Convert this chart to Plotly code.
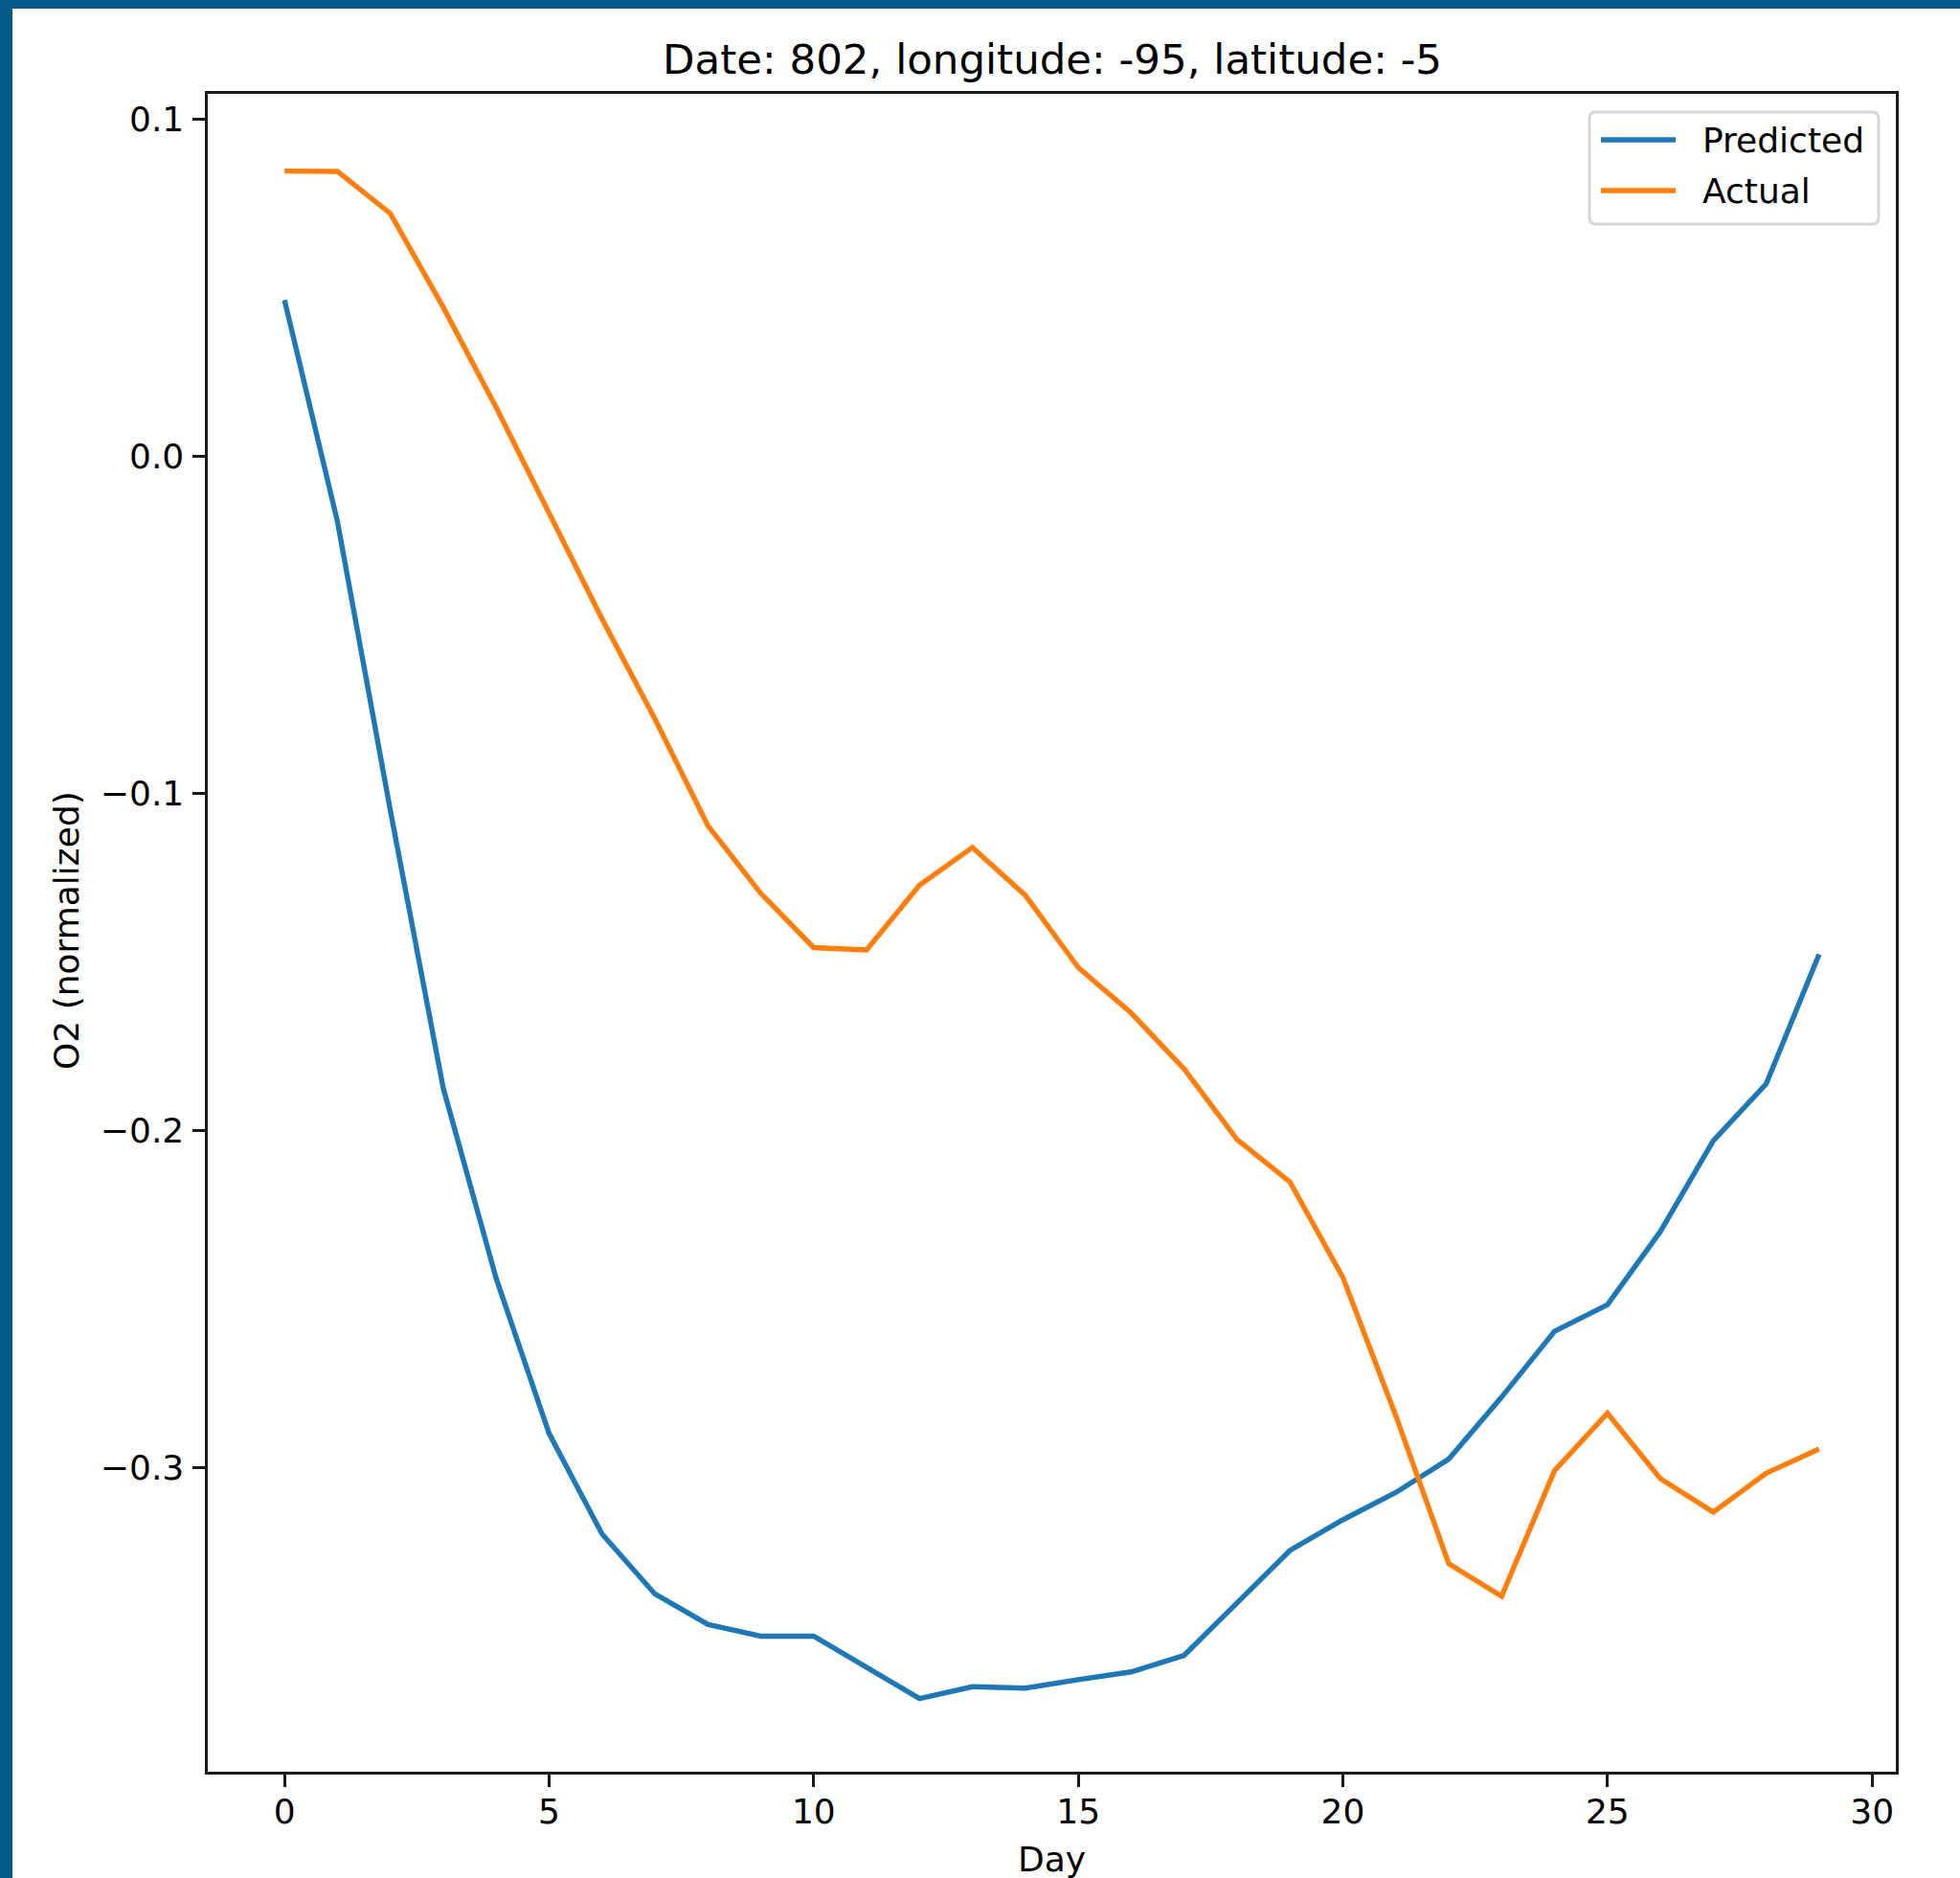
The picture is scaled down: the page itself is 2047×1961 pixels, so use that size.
import plotly.graph_objects as go

# ---- data ----
days = list(range(30))
predicted = [0.0463, -0.0193, -0.1050, -0.1874, -0.2438, -0.2898, -0.3196, -0.3374, -0.3464, -0.3499,
             -0.3499, -0.3592, -0.3684, -0.3649, -0.3653, -0.3628, -0.3605, -0.3556, -0.3400, -0.3245,
             -0.3154, -0.3073, -0.2974, -0.2790, -0.2595, -0.2516, -0.2299, -0.2030, -0.1861, -0.1477]
actual = [0.0846, 0.0845, 0.0720, 0.0442, 0.0145, -0.0167, -0.0482, -0.0779, -0.1095, -0.1296,
          -0.1457, -0.1464, -0.1272, -0.1160, -0.1302, -0.1516, -0.1651, -0.1817, -0.2026, -0.2152,
          -0.2435, -0.2845, -0.3284, -0.3381, -0.3008, -0.2838, -0.3032, -0.3131, -0.3016, -0.2944]
series_names = ["Predicted", "Actual"]
x_tickvals = [0, 5, 10, 15, 20, 25, 30]
x_ticktext = ["0", "5", "10", "15", "20", "25", "30"]
y_tickvals = [-0.3, -0.2, -0.1, 0.0, 0.1]
y_ticktext = ["\u22120.3", "\u22120.2", "\u22120.1", "0.0", "0.1"]
title_text = "Date: 802, longitude: -95, latitude: -5"
x_title = "Day"
y_title = "O2 (normalized)"

# ---- layout geometry (pixels) ----
W, H = 2047, 1961
ML, MR, MT, MB = 217, 67, 98, 111
X0, X1 = ML, W - MR
Y0, Y1 = MT, H - MB


def px(x):
    return (x - X0) / (X1 - X0)


def py(y):
    return (Y1 - y) / (Y1 - Y0)


BLUE = "#1f77b4"
ORANGE = "#ff7f0e"
FONT = "DejaVu Sans"
FS = 36
LW = 5.4

fig = go.Figure()
fig.add_trace(go.Scatter(x=days, y=predicted, mode="lines", name=series_names[0],
                         line=dict(color=BLUE, width=LW), showlegend=False))
fig.add_trace(go.Scatter(x=days, y=actual, mode="lines", name=series_names[1],
                         line=dict(color=ORANGE, width=LW), showlegend=False))

axis_common = dict(showgrid=False, zeroline=False, showline=True, linecolor="#1a1a1a", linewidth=2.9,
                   mirror=True, ticks="outside", ticklen=12.6, tickwidth=2.9, tickcolor="#1a1a1a",
                   tickfont=dict(family=FONT, size=FS, color="black"))
fig.update_xaxes(range=[-1.45, 30.45], tickvals=x_tickvals, ticktext=x_ticktext,
                 ticklabelstandoff=-5, **axis_common)
fig.update_yaxes(range=[-0.3901, 0.1075], tickvals=y_tickvals, ticktext=y_ticktext,
                 ticklabelstandoff=2, **axis_common)

shapes = []
# blue frame strips (top and left) from the screenshot background
shapes.append(dict(type="rect", xref="paper", yref="paper", x0=px(0), x1=px(W), y0=py(9), y1=py(0),
                   fillcolor="#035a86", line=dict(width=0), layer="above"))
shapes.append(dict(type="rect", xref="paper", yref="paper", x0=px(0), x1=px(13), y0=py(H), y1=py(0),
                   fillcolor="#035a86", line=dict(width=0), layer="above"))

# legend box with rounded corners
lx0, lx1, ly0, ly1, r = 1660, 1962, 117, 234, 7
path = (f"M {px(lx0 + r)},{py(ly0)} L {px(lx1 - r)},{py(ly0)} "
        f"Q {px(lx1)},{py(ly0)} {px(lx1)},{py(ly0 + r)} "
        f"L {px(lx1)},{py(ly1 - r)} Q {px(lx1)},{py(ly1)} {px(lx1 - r)},{py(ly1)} "
        f"L {px(lx0 + r)},{py(ly1)} Q {px(lx0)},{py(ly1)} {px(lx0)},{py(ly1 - r)} "
        f"L {px(lx0)},{py(ly0 + r)} Q {px(lx0)},{py(ly0)} {px(lx0 + r)},{py(ly0)} Z")
shapes.append(dict(type="path", xref="paper", yref="paper", path=path,
                   fillcolor="rgba(255,255,255,0.8)", line=dict(color="#d5d5d5", width=2.9)))
legend_rows = [(series_names[0], BLUE, 146), (series_names[1], ORANGE, 199)]
annotations = []
for name, col, yy in legend_rows:
    shapes.append(dict(type="line", xref="paper", yref="paper", x0=px(1672), x1=px(1750),
                       y0=py(yy), y1=py(yy), line=dict(color=col, width=LW)))
    annotations.append(dict(text=name, xref="paper", yref="paper", x=px(1776), y=py(yy),
                            xanchor="left", yanchor="middle", showarrow=False,
                            font=dict(family=FONT, size=FS, color="black")))

annotations.append(dict(text=title_text, xref="paper", yref="paper", x=0.5, y=py(62),
                        xanchor="center", yanchor="middle", showarrow=False,
                        font=dict(family=FONT, size=43.5, color="black")))
annotations.append(dict(text=x_title, xref="paper", yref="paper", x=0.5, y=py(1941),
                        xanchor="center", yanchor="middle", showarrow=False,
                        font=dict(family=FONT, size=FS, color="black")))
annotations.append(dict(text=y_title, xref="paper", yref="paper", x=px(70), y=py(972),
                        xanchor="center", yanchor="middle", showarrow=False, textangle=-90,
                        font=dict(family=FONT, size=FS, color="black")))

fig.update_layout(width=W, height=H, margin=dict(l=ML, r=MR, t=MT, b=MB, autoexpand=False),
                  paper_bgcolor="white", plot_bgcolor="white", showlegend=False,
                  shapes=shapes, annotations=annotations, font=dict(family=FONT))

fig.write_html("out.html")
